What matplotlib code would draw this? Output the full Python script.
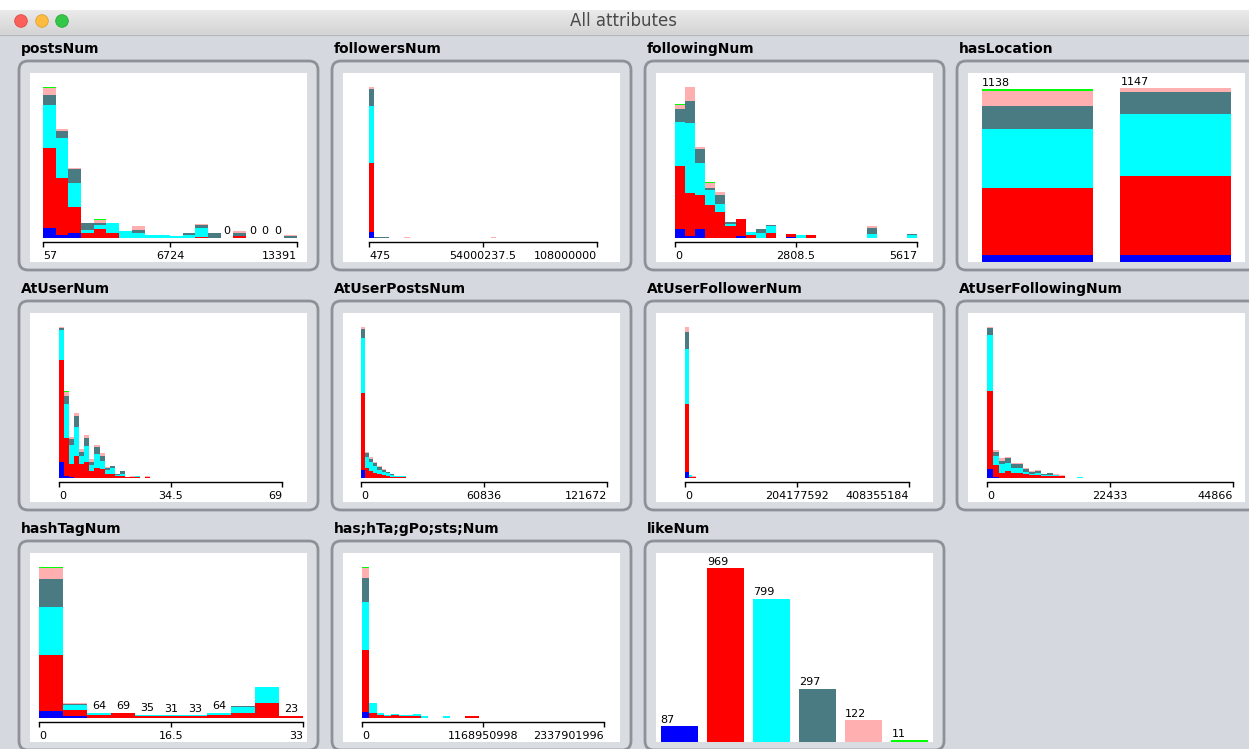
import numpy as np
import matplotlib.pyplot as plt
from matplotlib.patches import Rectangle, FancyBboxPatch, Circle
from matplotlib.colors import LinearSegmentedColormap

# =============================================================================
# SETTINGS
# =============================================================================
W, H = 1249, 749
BG = "#d5d8de"
FRAME_FC = "#d9dce1"
FRAME_EC = "#8e9197"

# weka class colours: blue, red, cyan, slate, pink, green
CLASS_COLORS = ["#0000ff", "#ff0000", "#00ffff", "#4b7b82", "#ffafaf", "#00ff00"]

# =============================================================================
# DATA  (stacked counts per bin, one row per class, trailing bins are empty)
# =============================================================================
POSTS_NUM_BINS = 20
POSTS_NUM_TICKS = ["57", "6724", "13391"]
POSTS_NUM = [
    [52, 14, 23],
    [416, 297, 135, 26, 45, 26, 0, 0, 0, 0, 0, 0, 5, 0, 0, 9],
    [224, 206, 128, 14, 21, 52, 33, 26, 14, 14, 10, 14, 47],
    [52, 38, 73, 38, 9, 0, 0, 14, 0, 0, 0, 12, 14, 23, 0, 17, 0, 0, 0, 9],
    [38, 14, 5, 0, 17, 0, 0, 21, 0, 0, 0, 0, 5, 3, 0, 7, 0, 0, 0, 5],
    [6, 0, 0, 0, 5],
]

FOLLOWERS_NUM_BINS = 45
FOLLOWERS_NUM_TICKS = ["475", "54000237.5", "108000000"]
FOLLOWERS_NUM = [
    [90],
    [1035],
    [860],
    [262, 6, 6, 12],
    [40, 10, 10, 0, 0, 0, 0, 14, 0, 0, 0, 0, 0, 0, 0, 0, 0, 0, 0, 0, 0, 0, 0, 0, 14],
    [0],
]

FOLLOWING_NUM_BINS = 24
FOLLOWING_NUM_TICKS = ["0", "2808.5", "5617"]
FOLLOWING_NUM = [
    [36, 7, 36, 0, 0, 0, 7, 0, 0, 0, 0, 4],
    [255, 174, 137, 131, 105, 46, 70, 11, 0, 21, 0, 11, 0, 11],
    [178, 283, 132, 62, 30, 11, 0, 14, 21, 25, 0, 0, 11, 0, 0, 0, 0, 0, 0, 15, 0, 0, 0, 10],
    [52, 92, 54, 10, 37, 6, 0, 0, 15, 7, 0, 0, 0, 0, 0, 0, 0, 0, 0, 26, 0, 0, 0, 5],
    [17, 58, 11, 18, 15, 0, 0, 0, 0, 0, 0, 0, 0, 0, 0, 0, 0, 0, 0, 7],
    [4, 0, 0, 4],
]

HAS_LOCATION = [
    [43, 44],
    [447, 522],
    [390, 409],
    [150, 147],
    [97, 25],
    [11, 0],
]

AT_USER_NUM_BINS = 44
AT_USER_NUM_TICKS = ["0", "34.5", "69"]
AT_USER_NUM = [
    [69, 7, 4],
    [438, 164, 54, 95, 58, 66, 29, 44, 37, 15, 18, 7, 9, 4, 3, 3, 0, 3],
    [131, 146, 85, 124, 37, 70, 26, 58, 37, 18, 22, 6, 9, 0, 0, 3],
    [9, 37, 25, 47, 18, 37, 15, 29, 22, 9, 9, 3, 9],
    [7, 15, 10, 12, 9, 13, 9, 10, 12, 6, 3, 0, 0, 0, 3, 0, 0, 3],
    [0, 6],
]

AT_USER_POSTS_NUM_BINS = 60
AT_USER_POSTS_NUM_TICKS = ["0", "60836", "121672"]
AT_USER_POSTS_NUM = [
    [71],
    [704, 93, 62, 47, 37, 25, 16, 9, 3, 6, 6],
    [502, 93, 78, 56, 37, 25, 25, 16, 9, 6, 6],
    [87, 37, 31, 28, 22, 22, 12, 6, 3, 0, 3],
    [22, 16, 19, 16, 12, 6],
    [0],
]

AT_USER_FOLLOWER_NUM_BINS = 60
AT_USER_FOLLOWER_NUM_TICKS = ["0", "204177592", "408355184"]
AT_USER_FOLLOWER_NUM = [
    [83],
    [985, 15, 5],
    [794, 20],
    [260, 10],
    [73, 0, 15],
    [0],
]

AT_USER_FOLLOWING_NUM_BINS = 41
AT_USER_FOLLOWING_NUM_TICKS = ["0", "22433", "44866"]
AT_USER_FOLLOWING_NUM = [
    [67, 8],
    [614, 91, 40, 53, 40, 40, 27, 19, 19, 13, 13, 13, 13],
    [446, 75, 67, 61, 40, 40, 21, 13, 21, 8, 8, 5, 0, 0, 0, 8],
    [53, 27, 27, 45, 27, 27, 19, 16, 13, 5, 13, 5, 3],
    [13, 16, 21, 8, 8, 8, 8, 8, 11, 0, 5, 5, 8],
    [0],
]

HASHTAG_NUM_BINS = 11
HASHTAG_NUM_TICKS = ["0", "16.5", "33"]
HASHTAG_NUM = [
    [92, 23],
    [759, 78, 37, 60, 18, 18, 25, 40, 69, 207, 23],
    [658, 74, 27, 9, 17, 13, 8, 24, 78, 207, 0],
    [386, 18, 0, 0, 0, 0, 0, 0, 9],
    [152, 9],
    [20],
]

HASHTAG_POSTS_NUM_BINS = 33
HASHTAG_POSTS_NUM_TICKS = ["0", "1168950998", "2337901996"]
HASHTAG_POSTS_NUM = [
    [72],
    [740, 60, 28, 16, 28, 16, 16, 16, 0, 0, 0, 0, 0, 0, 16, 16],
    [576, 112, 24, 16, 12, 16, 16, 28, 16, 0, 0, 16],
    [288, 8, 0, 0, 4],
    [120, 0, 0, 0, 0, 0, 0, 0, 0, 0, 0, 0, 0, 0, 4],
    [20],
]

LIKE_NUM = [87, 969, 799, 297, 122, 11]

# =============================================================================
# LAYOUT (pixels)
# =============================================================================
COL_X = [30, 343, 656, 968]
ROW_Y = [73, 313, 553]
BOX_W, BOX_H = 277, 189

# name, col, row, counts, bins, ticks, axis span from white-box left
HISTS = [
    ("postsNum", 0, 0, POSTS_NUM, POSTS_NUM_BINS, POSTS_NUM_TICKS, (13, 267)),
    ("followersNum", 1, 0, FOLLOWERS_NUM, FOLLOWERS_NUM_BINS, FOLLOWERS_NUM_TICKS, (26, 254)),
    ("followingNum", 2, 0, FOLLOWING_NUM, FOLLOWING_NUM_BINS, FOLLOWING_NUM_TICKS, (19, 261)),
    ("AtUserNum", 0, 1, AT_USER_NUM, AT_USER_NUM_BINS, AT_USER_NUM_TICKS, (29, 252)),
    ("AtUserPostsNum", 1, 1, AT_USER_POSTS_NUM, AT_USER_POSTS_NUM_BINS, AT_USER_POSTS_NUM_TICKS, (18, 264)),
    ("AtUserFollowerNum", 2, 1, AT_USER_FOLLOWER_NUM, AT_USER_FOLLOWER_NUM_BINS, AT_USER_FOLLOWER_NUM_TICKS, (29, 253)),
    ("AtUserFollowingNum", 3, 1, AT_USER_FOLLOWING_NUM, AT_USER_FOLLOWING_NUM_BINS, AT_USER_FOLLOWING_NUM_TICKS, (19, 265)),
    ("hashTagNum", 0, 2, HASHTAG_NUM, HASHTAG_NUM_BINS, HASHTAG_NUM_TICKS, (9, 273)),
    ("has;hTa;gPo;sts;Num", 1, 2, HASHTAG_POSTS_NUM, HASHTAG_POSTS_NUM_BINS, HASHTAG_POSTS_NUM_TICKS, (19, 261)),
]

TICK_FONT = 8
DIGIT_W = 7.07   # px per digit at TICK_FONT
SPACE_W = 3.5


def fig_rect(x, y, w, h):
    return [x / W, 1 - (y + h) / H, w / W, h / H]


def draw_frame(bg, name, col, row):
    x0, y0 = COL_X[col], ROW_Y[row]
    bg.add_patch(FancyBboxPatch((x0 - 11, y0 - 12), BOX_W + 22, BOX_H + 20,
                                boxstyle="round,pad=0,rounding_size=9",
                                fc=FRAME_FC, ec=FRAME_EC, lw=2.0))
    bg.add_patch(Rectangle((x0, y0), BOX_W, BOX_H, fc="white", ec="none"))
    bg.text(x0 - 9, y0 - 24, name, fontsize=10, fontweight="bold",
            ha="left", va="center", color="black")


def draw_hist(fig, col, row, counts, nbins, ticks, span):
    x0, y0 = COL_X[col], ROW_Y[row]
    left, right = x0 + span[0], x0 + span[1]
    top, base = y0 + 13.5, y0 + 164.7
    ax = fig.add_axes(fig_rect(left, top, right - left, base - top))
    ax.patch.set_visible(False)

    x = np.arange(nbins)
    bottom = np.zeros(nbins)
    for cls, color in zip(counts, CLASS_COLORS):
        vals = np.zeros(nbins)
        vals[:len(cls)] = cls
        ax.bar(x, vals, width=1.0, bottom=bottom, align="edge", color=color,
               linewidth=0, antialiased=False)
        bottom += vals

    ax.set_xlim(0, nbins)
    ax.set_ylim(0, bottom.max())

    # counts above bars when the number fits in the bar width
    bar_px = (right - left) / nbins
    for i, tot in enumerate(bottom):
        s = str(int(tot))
        if SPACE_W + DIGIT_W * len(s) < bar_px:
            ax.annotate(s, (i + 0.5, tot), xytext=(0, 1.2), textcoords="offset points",
                        ha="center", va="bottom", fontsize=TICK_FONT)

    for s in ["top", "left", "right"]:
        ax.spines[s].set_visible(False)
    ax.spines["bottom"].set_position(("outward", 2.9))
    ax.spines["bottom"].set_linewidth(1.0)
    ax.set_yticks([])
    ax.set_xticks([0, nbins / 2, nbins])
    ax.set_xticklabels(ticks, fontsize=TICK_FONT)
    ax.tick_params(axis="x", direction="out", length=3.6, width=1.0, pad=2.8)
    for lbl, ha in zip(ax.get_xticklabels(), ["left", "center", "right"]):
        lbl.set_ha(ha)


def draw_nominal(fig, col, row, counts, colors):
    x0, y0 = COL_X[col], ROW_Y[row]
    ax = fig.add_axes(fig_rect(x0, y0 + 15, BOX_W, BOX_H - 15))
    ax.patch.set_visible(False)
    n = len(counts[0])
    x = np.arange(n) + 0.1
    bottom = np.zeros(n)
    for cls, color in zip(counts, colors):
        vals = np.array(cls, dtype=float)
        ax.bar(x, vals, width=0.8, bottom=bottom, align="edge", color=color,
               linewidth=0, antialiased=False)
        bottom += vals
    ax.set_xlim(0, n)
    ax.set_ylim(0, bottom.max())
    for xi, tot in zip(x, bottom):
        ax.annotate(str(int(tot)), (xi, tot), xytext=(0, 1.0), textcoords="offset points",
                    ha="left", va="bottom", fontsize=TICK_FONT)
    ax.axis("off")


# =============================================================================
# FIGURE
# =============================================================================
fig = plt.figure(figsize=(W / 100, H / 100), dpi=100)
bg = fig.add_axes([0, 0, 1, 1])
bg.add_patch(Rectangle((0, 0), W, H, color=BG))
bg.add_patch(Rectangle((0, 0), W, 10, color="white"))

# window title bar
cmap = LinearSegmentedColormap.from_list("bar", ["#ebebeb", "#d4d4d4"])
bg.imshow(np.linspace(0, 1, 40).reshape(-1, 1), extent=(0, W, 34, 10),
          cmap=cmap, aspect="auto", zorder=1)
bg.plot([0, W], [34.5, 34.5], color="#b4b4b4", lw=0.8, zorder=2)
for cx, fc, ec in [(21, "#fc605b", "#de4a44"), (42, "#fdbc40", "#dea236"),
                   (62, "#34c84a", "#27aa35")]:
    bg.add_patch(Circle((cx, 21), 6.3, fc=fc, ec=ec, lw=0.6, zorder=3))
bg.text(624, 21.5, "All attributes", fontsize=12, color="#4a4a4a",
        ha="center", va="center", zorder=3)

for name, col, row, *_ in HISTS:
    draw_frame(bg, name, col, row)
draw_frame(bg, "hasLocation", 3, 0)
draw_frame(bg, "likeNum", 2, 2)

bg.set_xlim(0, W)
bg.set_ylim(H, 0)
bg.axis("off")

for name, col, row, counts, nbins, ticks, span in HISTS:
    draw_hist(fig, col, row, counts, nbins, ticks, span)

draw_nominal(fig, 3, 0, HAS_LOCATION, CLASS_COLORS)
like_counts = [[v if j == i else 0 for j in range(len(LIKE_NUM))]
               for i, v in enumerate(LIKE_NUM)]
draw_nominal(fig, 2, 2, like_counts, CLASS_COLORS)

fig.savefig("out.png", dpi=100)
